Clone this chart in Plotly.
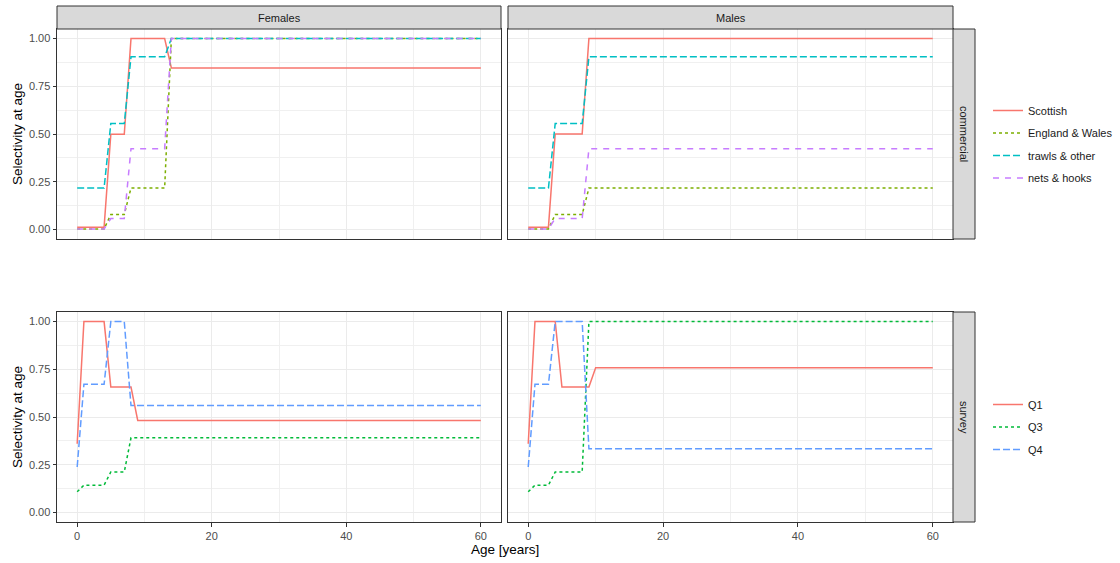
import plotly.graph_objects as go

# ---- selectivity-at-age curves (ages where the value changes) ----
# commercial fleets, females
com_f_age = [0, 4, 5, 7, 8, 13, 14, 60]
scottish_f = [0.012, 0.012, 0.499, 0.499, 1.0, 1.0, 0.846, 0.846]
engwales_f = [0.003, 0.003, 0.078, 0.078, 0.217, 0.217, 1.0, 1.0]
trawls_f = [0.217, 0.217, 0.555, 0.555, 0.904, 0.904, 1.0, 1.0]
nets_f = [0.003, 0.003, 0.057, 0.057, 0.423, 0.423, 1.0, 1.0]

# commercial fleets, males
com_m_age = [0, 3, 4, 8, 9, 60]
scottish_m = [0.012, 0.012, 0.5, 0.5, 1.0, 1.0]
engwales_m = [0.003, 0.003, 0.078, 0.078, 0.217, 0.217]
trawls_m = [0.217, 0.217, 0.555, 0.555, 0.904, 0.904]
nets_m = [0.003, 0.003, 0.057, 0.057, 0.423, 0.423]

# surveys, females
q1_f_age = [0, 1, 4, 5, 8, 9, 60]
q1_f = [0.36, 1.0, 1.0, 0.657, 0.657, 0.482, 0.482]
q3_f_age = [0, 1, 4, 5, 7, 8, 60]
q3_f = [0.108, 0.143, 0.143, 0.212, 0.212, 0.391, 0.391]
q4_f_age = [0, 1, 4, 5, 7, 8, 60]
q4_f = [0.238, 0.671, 0.671, 1.0, 1.0, 0.56, 0.56]

# surveys, males
q1_m_age = [0, 1, 4, 5, 9, 10, 60]
q1_m = [0.36, 1.0, 1.0, 0.657, 0.657, 0.758, 0.758]
q3_m_age = [0, 1, 3, 4, 8, 9, 60]
q3_m = [0.108, 0.143, 0.143, 0.212, 0.212, 1.0, 1.0]
q4_m_age = [0, 1, 3, 4, 8, 9, 60]
q4_m = [0.238, 0.671, 0.671, 1.0, 1.0, 0.334, 0.334]

sexes = ["Females", "Males"]
fleet_types = ["commercial", "survey"]
x_ticks = [0, 20, 40, 60]
y_ticks = [0.0, 0.25, 0.5, 0.75, 1.0]

# ---- styling ----
W, H = 1120, 563
FONT = "Liberation Sans, Arial, Helvetica, sans-serif"
LW = 1.5
styles = {
    "Scottish": dict(color="#F8766D", dash="solid"),
    "England & Wales": dict(color="#7CAE00", dash="3px,3px"),
    "trawls & other": dict(color="#00BFC4", dash="7px,3px"),
    "nets & hooks": dict(color="#C77CFF", dash="6px,6px"),
    "Q1": dict(color="#F8766D", dash="solid"),
    "Q3": dict(color="#00BA38", dash="3px,3px"),
    "Q4": dict(color="#619CFF", dash="7px,3px"),
}

# panel extents in pixels
col_px = [(57, 501), (508, 953)]
row_px = [(29, 239), (312, 522)]


def px_x(v):
    return v / W


def px_y(v):
    return 1 - v / H


fig = go.Figure()

panels = {
    (0, 0): [("Scottish", com_f_age, scottish_f), ("England & Wales", com_f_age, engwales_f),
             ("trawls & other", com_f_age, trawls_f), ("nets & hooks", com_f_age, nets_f)],
    (0, 1): [("Scottish", com_m_age, scottish_m), ("England & Wales", com_m_age, engwales_m),
             ("trawls & other", com_m_age, trawls_m), ("nets & hooks", com_m_age, nets_m)],
    (1, 0): [("Q1", q1_f_age, q1_f), ("Q3", q3_f_age, q3_f), ("Q4", q4_f_age, q4_f)],
    (1, 1): [("Q1", q1_m_age, q1_m), ("Q3", q3_m_age, q3_m), ("Q4", q4_m_age, q4_m)],
}

for (r, c), series in panels.items():
    idx = r * 2 + c + 1
    xa = "x" if idx == 1 else f"x{idx}"
    ya = "y" if idx == 1 else f"y{idx}"
    for name, ages, sel in series:
        st = styles[name]
        fig.add_trace(go.Scatter(
            x=ages, y=sel, mode="lines", name=name,
            line=dict(color=st["color"], dash=st["dash"], width=LW),
            xaxis=xa, yaxis=ya,
            legend="legend" if r == 0 else "legend2",
            legendgroup=name, showlegend=(c == 0),
        ))

    x0, x1 = col_px[c]
    y0, y1 = row_px[r]
    xkey = "xaxis" if idx == 1 else f"xaxis{idx}"
    ykey = "yaxis" if idx == 1 else f"yaxis{idx}"
    fig.update_layout(**{
        xkey: dict(
            domain=[px_x(x0), px_x(x1)], range=[-3, 63], anchor=ya,
            tickvals=x_ticks, ticktext=[str(t) for t in x_ticks],
            showticklabels=(r == 1), ticks="outside" if r == 1 else "",
            ticklen=3.5, tickwidth=1, tickcolor="#333333",
            tickfont=dict(family=FONT, size=11, color="#4D4D4D"),
            showgrid=True, gridcolor="#EBEBEB", gridwidth=1,
            minor=dict(tickvals=[10, 30, 50], showgrid=True, gridcolor="#F0F0F0", gridwidth=0.6),
            zeroline=False, showline=True, mirror=True, linecolor="#333333", linewidth=1,
        ),
        ykey: dict(
            domain=[px_y(y1), px_y(y0)], range=[-0.05, 1.05], anchor=xa,
            tickvals=y_ticks, ticktext=[f"{t:.2f}" for t in y_ticks],
            showticklabels=(c == 0), ticks="outside" if c == 0 else "",
            ticklen=3.5, tickwidth=1, tickcolor="#333333",
            tickfont=dict(family=FONT, size=11, color="#4D4D4D"),
            showgrid=True, gridcolor="#EBEBEB", gridwidth=1,
            minor=dict(tickvals=[0.125, 0.375, 0.625, 0.875], showgrid=True,
                       gridcolor="#F0F0F0", gridwidth=0.6),
            zeroline=False, showline=True, mirror=True, linecolor="#333333", linewidth=1,
        ),
    })

shapes = []
annotations = []


def label(text, x, y, size=11, color="#1A1A1A", angle=0):
    return dict(text=text, xref="paper", yref="paper", x=px_x(x), y=px_y(y),
                xanchor="center", yanchor="middle", textangle=angle, showarrow=False,
                font=dict(family=FONT, size=size, color=color))


# column strips
for c, name in enumerate(sexes):
    x0, x1 = col_px[c]
    shapes.append(dict(type="rect", xref="paper", yref="paper",
                       x0=px_x(x0), x1=px_x(x1), y0=px_y(29), y1=px_y(6),
                       fillcolor="#D9D9D9", line=dict(color="#333333", width=1), layer="above"))
    annotations.append(label(name, (x0 + x1) / 2, 17.5))
# row strips and row axis titles
for r, name in enumerate(fleet_types):
    y0, y1 = row_px[r]
    shapes.append(dict(type="rect", xref="paper", yref="paper",
                       x0=px_x(953), x1=px_x(975), y0=px_y(y1), y1=px_y(y0),
                       fillcolor="#D9D9D9", line=dict(color="#333333", width=1), layer="above"))
    annotations.append(label(name, 964, (y0 + y1) / 2, angle=90))
    annotations.append(label("Selectivity at age", 17, (y0 + y1) / 2, size=13.5,
                             color="#000000", angle=-90))

annotations.append(label("Age [years]", 505, 549, size=13.5, color="#000000"))

legend_style = dict(
    xanchor="left", yanchor="top", bgcolor="rgba(0,0,0,0)", borderwidth=0,
    font=dict(family=FONT, size=11, color="#1A1A1A"),
    traceorder="grouped", tracegroupgap=3.5, itemwidth=30,
)

fig.update_layout(
    width=W, height=H, margin=dict(l=0, r=0, t=0, b=0),
    paper_bgcolor="white", plot_bgcolor="white",
    shapes=shapes, annotations=annotations,
    legend=dict(x=px_x(988), y=px_y(96), **legend_style),
    legend2=dict(x=px_x(988), y=px_y(390), **legend_style),
)

fig.write_html("out.html")
